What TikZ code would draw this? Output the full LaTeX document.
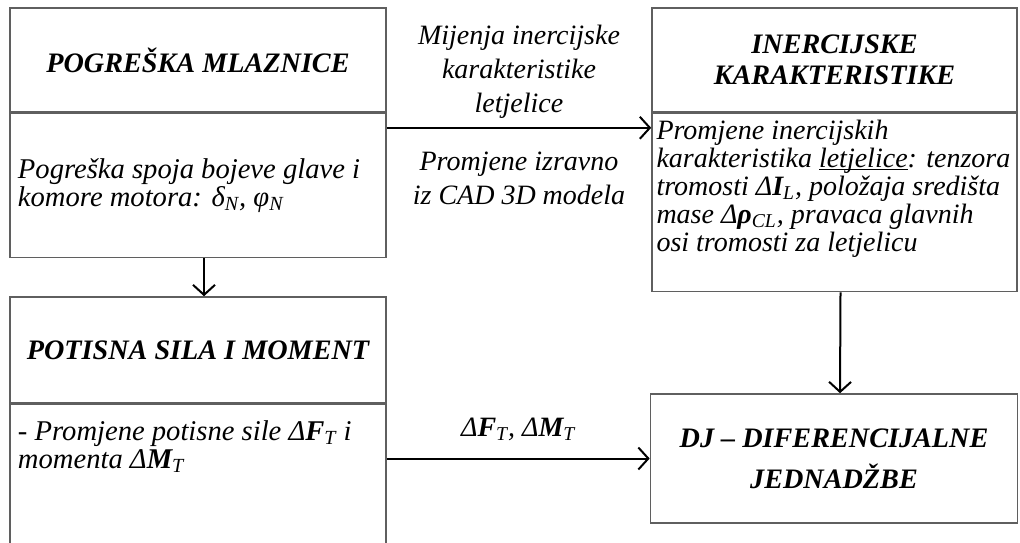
\documentclass[tikz,border=0pt]{standalone}
\usepackage{fontspec}
\setmainfont{Liberation Serif}
\usetikzlibrary{arrows.meta,positioning}
\definecolor{framecol}{RGB}{95,95,95}
\newcommand{\uword}[1]{\setbox0\hbox{#1}\rlap{\rule[-1.6pt]{\wd0}{0.55pt}}#1}

\begin{document}
\begin{tikzpicture}[x=0.5pt, y=-0.5pt,
    >={Straight Barb[length=5pt,width=11pt]},
    head/.style={rectangle, draw=framecol, line width=0.8pt, align=center, font=\fontsize{14.1}{15.5}\selectfont\bfseries\itshape},
    body/.style={rectangle, draw=framecol, line width=0.8pt, inner sep=0pt, font=\fontsize{14.3}{14}\selectfont\itshape},
    lbl/.style={align=center, font=\fontsize{14}{17}\selectfont\itshape},
    arrow/.style={->, line width=1pt},
]
\clip (0,0) rectangle (1020,542);

% left column
\node[head, minimum width=188pt, minimum height=52pt] (mltitle) at (198,60) {POGREŠKA MLAZNICE};
\node[body, minimum width=188pt, below=0pt of mltitle] (mlbody) {\parbox[c][72pt][c]{180pt}{\raggedright Pogreška spoja bojeve glave i\\ komore motora: \textit{δ}\textsubscript{N}, \textit{φ}\textsubscript{N}}};

\node[head, minimum width=188pt, minimum height=53pt] (pstitle) at (198,350) {POTISNA SILA I MOMENT};
\node[body, minimum width=188pt, below=0pt of pstitle] (psbody) {\parbox[c][90pt][t]{180pt}{\raggedright\vspace{8pt}- Promjene potisne sile \textit{Δ\textbf{F}}\textsubscript{T} i\\ momenta \textit{Δ\textbf{M}}\textsubscript{T}}};

% right column
\node[head, minimum width=182.5pt, minimum height=52pt] (intitle) at (834.5,60) {INERCIJSKE\\KARAKTERISTIKE};
\node[body, minimum width=182.5pt, below=0pt of intitle, font=\fontsize{14}{14}\selectfont\itshape] (inbody) {\parbox[c][89pt][t]{178pt}{\raggedright\vspace{3pt}Promjene inercijskih\\ \mbox{karakteristika \uword{letjelice}: tenzora}\\ tromosti \textit{Δ\textbf{I}}\textsubscript{L}, položaja središta\\ mase \textit{Δ\textbf{ρ}}\textsubscript{CL}, pravaca glavnih\\ osi tromosti za letjelicu}};

\node[head, minimum width=183.5pt, minimum height=64.5pt, font=\fontsize{14.1}{20.5}\selectfont\bfseries\itshape] (djbox) at (834,458.5) {DJ – DIFERENCIJALNE\\JEDNADŽBE};

% connectors
\draw[arrow] ([xshift=3pt]mlbody.south) -- ([xshift=3pt]pstitle.north);
\draw[arrow] ([xshift=3pt]inbody.south) -- ([xshift=3pt]djbox.north);
\draw[arrow] ([yshift=-7.5pt]mlbody.north east) -- node[lbl, above=1pt] (lblup) {Mijenja inercijske\\karakteristike\\letjelice} node[lbl, below=8pt] (lbldown) {Promjene izravno\\iz CAD 3D modela} ([yshift=-7.5pt]inbody.north west);
\draw[arrow] (psbody.east |- djbox.west) -- node[lbl, above=5pt] (lblforce) {\textit{Δ\textbf{F}}\textsubscript{T}, \textit{Δ\textbf{M}}\textsubscript{T}} (djbox.west);
\end{tikzpicture}
\end{document}
